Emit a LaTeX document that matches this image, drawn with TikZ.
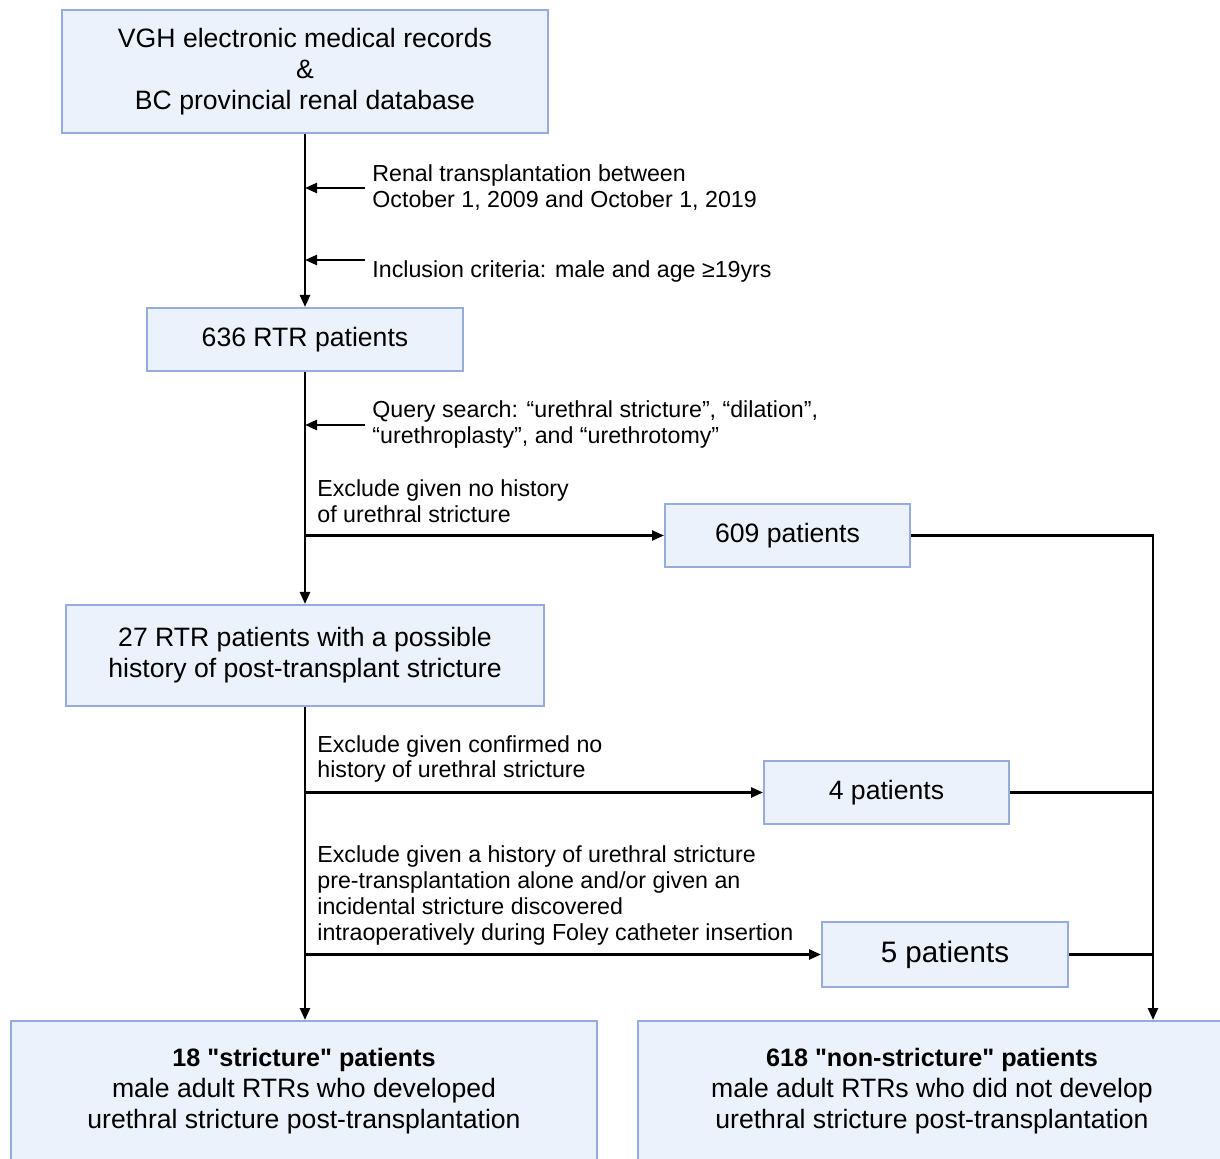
\documentclass[tikz,border=0pt]{standalone}
\usepackage{fontspec}
\setmainfont{Liberation Sans}
\usepackage{xcolor}
\usetikzlibrary{arrows.meta, positioning}

\definecolor{boxfill}{RGB}{236,242,251}
\definecolor{boxline}{RGB}{150,172,222}

\newcommand{\headline}[1]{{\fontsize{12.6}{15.5}\selectfont\bfseries #1}}

\begin{document}
\begin{tikzpicture}[x=0.5pt, y=-0.5pt,
    box/.style={rectangle, draw=boxline, fill=boxfill, line width=1pt, align=center, inner sep=0pt, font=\fontsize{13.3}{15.5}\selectfont},
    note/.style={anchor=west, align=left, inner sep=0pt, font=\fontsize{11.6}{13}\selectfont},
    arrow/.style={-{Triangle[length=6pt, width=5pt]}, line width=1.2pt},
    link/.style={line width=1.2pt}
]
\useasboundingbox (0,0) rectangle (1220,1159);

% Sources and cohort boxes (main column)
\node[box, minimum width=243pt, minimum height=61.5pt] (src) at (305,71.5) {VGH electronic medical records\\\&\\BC provincial renal database};
\node[box, minimum width=158pt, minimum height=31.5pt] (rtr) at (305,339.5) {636 RTR patients};
\node[box, minimum width=239pt, minimum height=50.5pt] (possible) at (305,655.5) {27 RTR patients with a possible\\history of post-transplant stricture};

% Excluded boxes (right column)
\node[box, minimum width=122.5pt, minimum height=31.5pt] (p609) at (787.5,535.5) {609 patients};
\node[box, minimum width=122.5pt, minimum height=31.5pt] (p4) at (886.5,792.5) {4 patients};
\node[box, minimum width=123pt, minimum height=32.5pt, font=\fontsize{14.8}{16}\selectfont] (p5) at (945,954.5) {5 patients};

% Final groups
\node[box, minimum width=293pt, minimum height=70pt] (stricture) at (304,1091) {\headline{18 \textquotedbl stricture\textquotedbl{} patients}\\male adult RTRs who developed\\urethral stricture post-transplantation};
\node[box, minimum width=294pt, minimum height=70pt] (nonstricture) at (932,1091) {\headline{618 \textquotedbl non-stricture\textquotedbl{} patients}\\male adult RTRs who did not develop\\urethral stricture post-transplantation};

% Criteria texts
\node[note] (renal) at (372,188) {Renal transplantation between\\October 1, 2009 and October 1, 2019};
\node[note] (incl) at (372,272) {Inclusion criteria: male and age ≥19yrs};
\node[note] (query) at (372,425) {Query search: “urethral stricture”, “dilation”,\\“urethroplasty”, and “urethrotomy”};
\node[note] (nohist) at (317,501) {Exclude given no history\\of urethral stricture};
\node[note] (confirmed) at (317,759) {Exclude given confirmed no\\history of urethral stricture};
\node[note] (pretx) at (317,895) {Exclude given a history of urethral stricture\\pre-transplantation alone and/or given an\\incidental stricture discovered\\intraoperatively during Foley catheter insertion};

% Main flow
\draw[arrow] (src.south) -- (rtr.north);
\draw[arrow] (rtr.south) -- (possible.north);
\draw[arrow] (possible.south) -- (possible.south |- stricture.north);

% Criteria arrows
\coordinate (c1) at ([xshift=-3.5pt]renal.west);
\coordinate (c2) at ([xshift=-3.5pt, yshift=6pt]incl.west);
\coordinate (c3) at ([xshift=-3.5pt]query.west);
\draw[arrow] (c1) -- (c1 -| src.south);
\draw[arrow] (c2) -- (c2 -| src.south);
\draw[arrow] (c3) -- (c3 -| rtr.south);

% Exclusions
\draw[arrow] (rtr.south |- p609.west) -- (p609.west);
\draw[arrow] (possible.south |- p4.west) -- (p4.west);
\draw[arrow] (possible.south |- p5.west) -- (p5.west);

% Collector on the right
\coordinate (rail) at (1153,0);
\draw[arrow] (p609.east) -| (rail |- nonstricture.north);
\draw[link] (p4.east) -- (p4.east -| rail);
\draw[link] (p5.east) -- (p5.east -| rail);

\end{tikzpicture}
\end{document}
